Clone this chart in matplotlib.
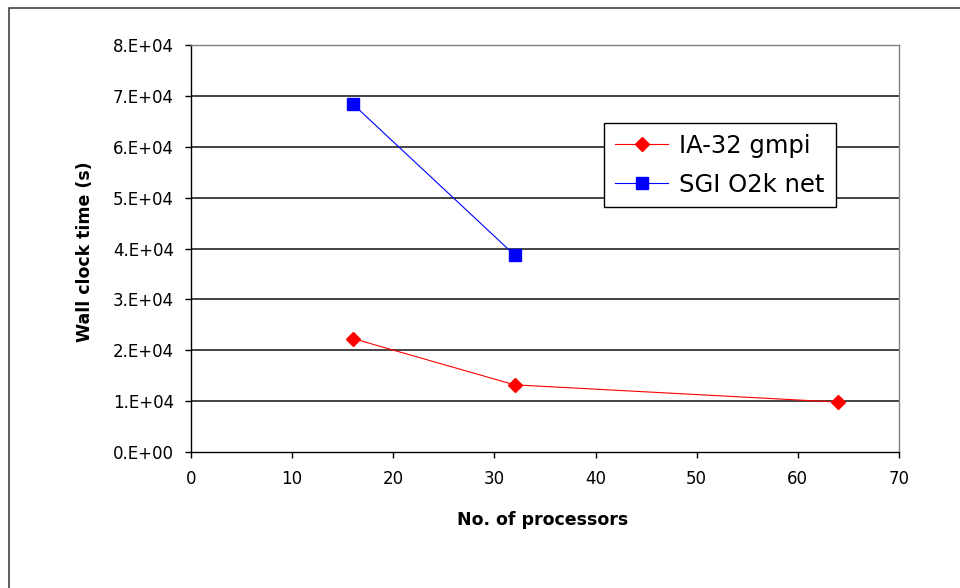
import matplotlib
matplotlib.use("Agg")
import matplotlib.pyplot as plt
from matplotlib.patches import Rectangle
from matplotlib.ticker import FixedLocator, FixedFormatter

# ---- data ----
ia32_procs = [16, 32, 64]
ia32_time = [22300, 13200, 9800]
sgi_procs = [16, 32]
sgi_time = [68400, 38700]

xticks = [0, 10, 20, 30, 40, 50, 60, 70]
yticks = [0, 10000, 20000, 30000, 40000, 50000, 60000, 70000, 80000]
ytick_labels = ["0.E+00", "1.E+04", "2.E+04", "3.E+04", "4.E+04",
                "5.E+04", "6.E+04", "7.E+04", "8.E+04"]

plt.rcParams['font.family'] = ['DejaVu Sans']

fig = plt.figure(figsize=(9.6, 5.88), dpi=100)
W, H = 960, 588
ax = fig.add_axes([191 / W, 1 - 452 / H, (899 - 191) / W, (452 - 45) / H])

# outer chart border (extends past right/bottom edge)
fig.patches.append(Rectangle((9 / W, -0.2), 1.3, 1 - 8 / H + 0.2,
                             transform=fig.transFigure, fill=False,
                             edgecolor='#333333', linewidth=1.1))

# gridlines (inner ones only; top/bottom coincide with spines)
for v in yticks[1:-1]:
    ax.axhline(v, color='#111111', linewidth=1.1, zorder=1)

ax.plot(ia32_procs, ia32_time, color='#ff0000', linewidth=0.8,
        marker='D', markersize=7, markerfacecolor='#ff0000',
        markeredgecolor='#ff0000', label='IA-32 gmpi', zorder=3)
ax.plot(sgi_procs, sgi_time, color='#0000ff', linewidth=0.8,
        marker='s', markersize=8, markerfacecolor='#0000ff',
        markeredgecolor='#0000ff', label='SGI O2k net', zorder=3)

ax.set_xlim(xticks[0], xticks[-1])
ax.set_ylim(yticks[0], yticks[-1])
ax.xaxis.set_major_locator(FixedLocator(xticks))
ax.yaxis.set_major_locator(FixedLocator(yticks))
ax.yaxis.set_major_formatter(FixedFormatter(ytick_labels))

for s in ['left', 'bottom']:
    ax.spines[s].set_color('#000000')
    ax.spines[s].set_linewidth(1.0)
for s in ['top', 'right']:
    ax.spines[s].set_color('#808080')
    ax.spines[s].set_linewidth(1.0)

ax.tick_params(axis='both', direction='out', length=4.3, width=1.0,
               color='#000000', labelsize=12, labelcolor='#000000')
ax.tick_params(axis='y', pad=8)
ax.tick_params(axis='x', pad=9)

fig.text(543 / W, 1 - 520 / H, 'No. of processors', ha='center', va='center',
         fontsize=12.5, fontweight='bold')
fig.text(85 / W, 1 - 252 / H, 'Wall clock time (s)', ha='center', va='center',
         rotation=90, fontsize=12.5, fontweight='bold')

leg = ax.legend(loc='upper left', bbox_to_anchor=(604 / W, 1 - 123 / H),
                bbox_transform=fig.transFigure, borderaxespad=0,
                fontsize=17.5, frameon=True, fancybox=False, framealpha=1,
                edgecolor='#000000', handlelength=2.2, handletextpad=0.45,
                labelspacing=0.6, borderpad=0.45)
leg.get_frame().set_linewidth(1.0)

fig.savefig('out.png', dpi=100, facecolor='white')
